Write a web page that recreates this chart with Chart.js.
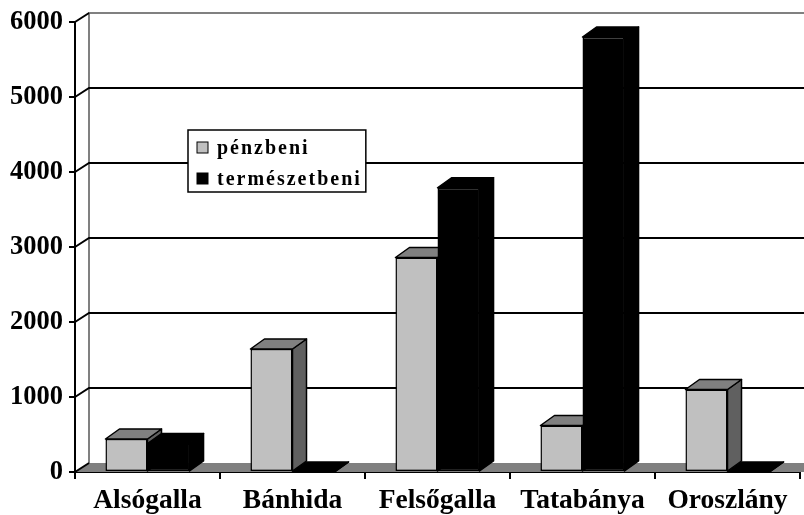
<!DOCTYPE html>
<html>
<head>
<meta charset="utf-8">
<script src="https://cdn.jsdelivr.net/npm/chart.js@4"></script>
<style>
  body { margin: 0; background: #fff; }
  #wrap { width: 804px; height: 515px; }
</style>
</head>
<body>
<div id="wrap"><canvas id="chart"></canvas></div>
<script>
const categories = ['Alsógalla', 'Bánhida', 'Felsőgalla', 'Tatabánya', 'Oroszlány'];
const penzbeni = [440, 1640, 2860, 620, 1100];
const termeszetbeni = [380, 0, 3790, 5800, 0];
const seriesNames = ['pénzbeni', 'természetbeni'];
const yMax = 6000;
const yStep = 1000;

const SERIF = "'Liberation Serif', 'Times New Roman', serif";
const frontColors = ['#c0c0c0', '#000000'];
const topColors = ['#808080', '#000000'];
const sideColors = ['#606060', '#000000'];

function poly(ctx, pts, fill) {
  ctx.beginPath();
  ctx.moveTo(pts[0][0], pts[0][1]);
  for (let i = 1; i < pts.length; i++) ctx.lineTo(pts[i][0], pts[i][1]);
  ctx.closePath();
  if (fill) { ctx.fillStyle = fill; ctx.fill(); }
  ctx.stroke();
}

// back wall, floor and the top/side faces of the bars
const wall3d = {
  id: 'wall3d',
  beforeDatasetsDraw(chart) {
    const { ctx, chartArea: a, scales: { y } } = chart;
    const wx = 14, wy = -9;
    ctx.save();

    // floor
    ctx.fillStyle = '#808080';
    ctx.beginPath();
    ctx.moveTo(a.left, a.bottom);
    ctx.lineTo(a.right + wx, a.bottom);
    ctx.lineTo(a.right + wx, a.bottom + wy);
    ctx.lineTo(a.left + wx, a.bottom + wy);
    ctx.closePath();
    ctx.fill();

    // wall edges
    ctx.strokeStyle = '#808080';
    ctx.lineWidth = 2;
    ctx.beginPath();
    ctx.moveTo(a.left + wx, a.bottom + wy);
    ctx.lineTo(a.left + wx, a.top + wy);
    ctx.lineTo(chart.width, a.top + wy);
    ctx.stroke();

    // gridlines on the back wall
    ctx.strokeStyle = '#000';
    y.ticks.forEach(t => {
      const py = y.getPixelForValue(t.value);
      ctx.beginPath();
      ctx.moveTo(a.left, py);
      ctx.lineTo(a.left + wx, py + wy);
      if (t.value > 0 && t.value < yMax) ctx.lineTo(chart.width, py + wy);
      ctx.stroke();
    });

    // bar extrusions
    const dx = 14, dy = -10;
    ctx.lineWidth = 1.5;
    ctx.lineJoin = 'round';
    ctx.strokeStyle = '#000';
    categories.forEach((c, i) => {
      [0, 1].forEach(d => {
        const el = chart.getDatasetMeta(d).data[i];
        const p = el.getProps(['x', 'y', 'base', 'width'], true);
        const l = p.x - p.width / 2, r = p.x + p.width / 2;
        poly(ctx, [[r, p.y], [r + dx, p.y + dy], [r + dx, p.base + dy], [r, p.base]], sideColors[d]);
        poly(ctx, [[l, p.y], [l + dx, p.y + dy], [r + dx, p.y + dy], [r, p.y]], topColors[d]);
      });
    });
    ctx.restore();
  },
  afterDraw(chart) {
    const ctx = chart.ctx;
    ctx.save();
    ctx.font = 'bold 20px ' + SERIF;
    ctx.letterSpacing = '2px';
    const w = Math.max(...seriesNames.map(s => ctx.measureText(s).width));
    const bx = 188, by = 130, bh = 62;
    ctx.fillStyle = '#fff';
    ctx.fillRect(bx, by, 217 - bx + w + 4, bh);
    ctx.strokeStyle = '#000';
    ctx.lineWidth = 1.5;
    ctx.strokeRect(bx, by, 217 - bx + w + 4, bh);
    const rows = [154, 185];
    seriesNames.forEach((s, i) => {
      ctx.fillStyle = frontColors[i];
      ctx.fillRect(197, rows[i] - 12, 11, 11);
      ctx.lineWidth = 1;
      ctx.strokeRect(197, rows[i] - 12, 11, 11);
      ctx.fillStyle = '#000';
      ctx.textBaseline = 'alphabetic';
      ctx.fillText(s, 217, rows[i]);
    });
    ctx.restore();
  }
};

new Chart(document.getElementById('chart'), {
  type: 'bar',
  data: {
    labels: categories,
    datasets: [
      { label: seriesNames[0], data: penzbeni, backgroundColor: frontColors[0] },
      { label: seriesNames[1], data: termeszetbeni, backgroundColor: frontColors[1] }
    ].map(ds => Object.assign(ds, {
      borderColor: '#000', borderWidth: 1.5, borderSkipped: false,
      barPercentage: 1.0, categoryPercentage: 0.58
    }))
  },
  options: {
    responsive: true,
    maintainAspectRatio: false,
    animation: false,
    layout: { padding: { top: 22, right: 4, left: 0, bottom: 0 } },
    plugins: { legend: { display: false }, tooltip: { enabled: false } },
    scales: {
      x: {
        afterFit: s => { s.height = 43; },
        grid: { drawOnChartArea: false, tickLength: 7, color: '#000', lineWidth: 2 },
        border: { color: '#000', width: 2 },
        ticks: { color: '#000', padding: 5, font: { family: SERIF, size: 27.5, weight: 'bold' } }
      },
      y: {
        min: 0, max: yMax,
        afterFit: s => { s.width = 75; },
        grid: { drawOnChartArea: false, tickLength: 6, color: '#000', lineWidth: 2 },
        border: { color: '#000', width: 2 },
        ticks: {
          stepSize: yStep, color: '#000', padding: 6,
          font: { family: SERIF, size: 26.5, weight: 'bold' },
          callback: v => String(v)
        }
      }
    }
  },
  plugins: [wall3d]
});
</script>
</body>
</html>
